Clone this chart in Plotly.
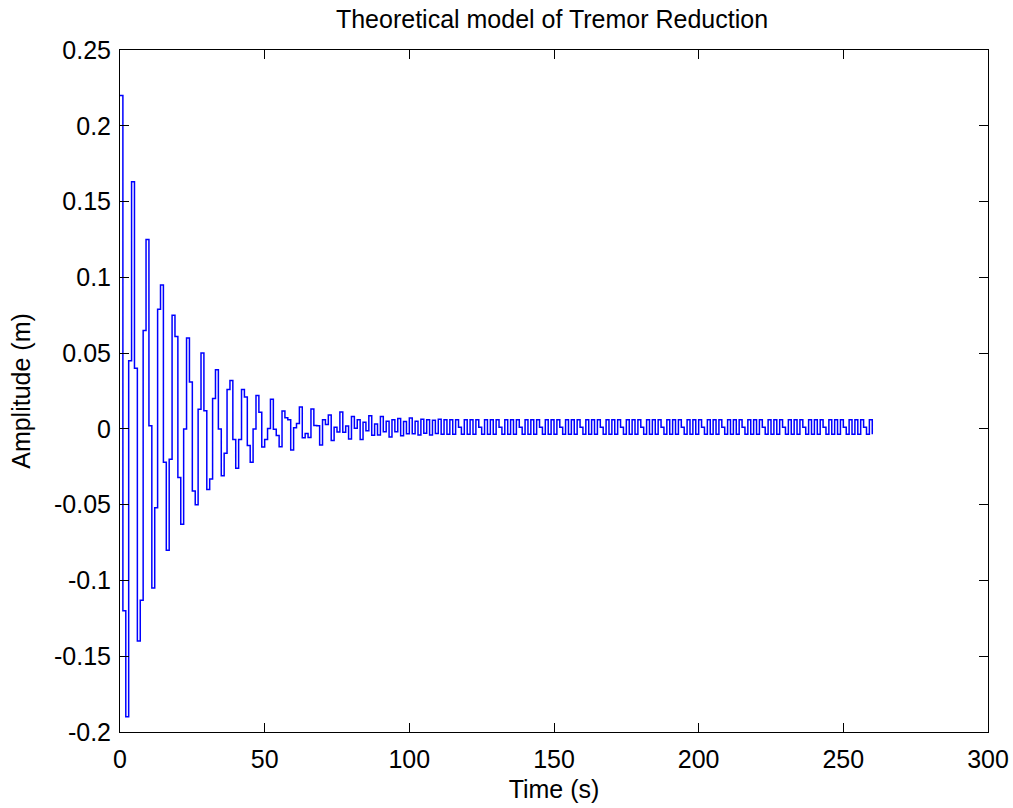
import plotly.graph_objects as go

# Sampled amplitude (m), one sample per second, drawn as a staircase
transient_part = [
    0.22, -0.12, -0.19, 0.045, 0.163, 0.04, -0.14, -0.113, 0.065, 0.125,
    0.002, -0.105, -0.052, 0.079, 0.095, -0.022, -0.08, -0.02, 0.075, 0.061,
    -0.032, -0.063, 0.0, 0.06, 0.031, -0.041, -0.05, 0.013, 0.05, 0.012,
    -0.04, -0.033, 0.02, 0.039, 0.0, -0.031, -0.016, 0.026, 0.032, -0.007,
    -0.026, -0.007, 0.026, 0.021, -0.011, -0.022, 0.0, 0.022, 0.011, -0.012,
]
beat_part = [
    -0.007, 0.0002, 0.0195, -0.0002, -0.0044, -0.0118, 0.0118, 0.0073, 0.006, -0.0139,
    0.0007, 0.0036, 0.0145, -0.0059, -0.003, -0.0057, 0.0132, 0.0022, 0.0021, -0.0106,
    0.006, 0.0029, 0.0092, -0.0077, 0.0011, -0.0021, 0.0112, -0.0022, 0.0019, -0.0067,
    0.0082, 0.0004, 0.006, -0.007, 0.0043, -0.0012, 0.0086, -0.0042, 0.0033, -0.0041,
    0.0081, -0.0019, 0.005, -0.0054, 0.006, -0.0019, 0.0068, -0.0046, 0.0048, -0.0032,
    0.0072, -0.0032, 0.0051, -0.0041, 0.0064, -0.0028, 0.006, -0.0041, 0.0057, -0.0031,
    0.0063,
]
steady_part = [
    -0.0035, 0.006, -0.0035, 0.006, -0.0035, 0.006, 0.001,
    -0.0035, 0.006, -0.0035, 0.006, -0.0035, 0.006, 0.001,
    -0.0035, 0.006, -0.0035, 0.006, -0.0035, 0.006, 0.001,
    -0.0035, 0.006, -0.0035, 0.006, -0.0035, 0.006, 0.001,
    -0.0035, 0.006, -0.0035, 0.006, -0.0035, 0.006, 0.001,
    -0.0035, 0.006, -0.0035, 0.006, -0.0035, 0.006, 0.001,
    -0.0035, 0.006, -0.0035, 0.006, -0.0035, 0.006, 0.001,
    -0.0035, 0.006, -0.0035, 0.006, -0.0035, 0.006, 0.001,
    -0.0035, 0.006, -0.0035, 0.006, -0.0035, 0.006, 0.001,
    -0.0035, 0.006, -0.0035, 0.006, -0.0035, 0.006, 0.001,
    -0.0035, 0.006, -0.0035, 0.006, -0.0035, 0.006, 0.001,
    -0.0035, 0.006, -0.0035, 0.006, -0.0035, 0.006, 0.001,
    -0.0035, 0.006, -0.0035, 0.006, -0.0035, 0.006, 0.001,
    -0.0035, 0.006, -0.0035, 0.006, -0.0035, 0.006, 0.001,
    -0.0035, 0.006, -0.0035, 0.006, -0.0035, 0.006, 0.001,
    -0.0035, 0.006, -0.0035, 0.006, -0.0035, 0.006, 0.001,
    -0.0035, 0.006, -0.0035, 0.006, -0.0035, 0.006, 0.001,
    -0.0035, 0.006, -0.0035, 0.006, -0.0035, 0.006, 0.001,
    -0.0035, 0.006, -0.0035, 0.006, -0.0035, 0.006, 0.001,
    -0.0035, 0.006, -0.0035, 0.006, -0.0035, 0.006, 0.001,
    -0.0035, 0.006, -0.0035, 0.006, -0.0035, 0.006, 0.001,
    -0.0035, 0.006, -0.0035,
]
amplitude_m = transient_part + beat_part + steady_part
time_s = list(range(len(amplitude_m)))

x_ticks = [0, 50, 100, 150, 200, 250, 300]
y_ticks = [-0.2, -0.15, -0.1, -0.05, 0, 0.05, 0.1, 0.15, 0.2, 0.25]
y_tick_text = ["-0.2", "-0.15", "-0.1", "-0.05", "0", "0.05", "0.1", "0.15", "0.2", "0.25"]

FONT = "Liberation Sans, Arial, sans-serif"

fig = go.Figure()
fig.add_trace(go.Scatter(
    x=time_s, y=amplitude_m, mode="lines",
    line=dict(color="#0000FF", width=1.5, shape="hv"),
    showlegend=False,
))

axis_common = dict(
    showline=True, linecolor="black", linewidth=1, mirror="ticks",
    ticks="inside", ticklen=9, tickwidth=1, tickcolor="black",
    showgrid=False, zeroline=False, automargin=False,
    ticklabeloverflow="allow",
    tickfont=dict(family=FONT, size=25, color="black"),
)

fig.update_layout(
    width=1013, height=808,
    margin=dict(l=120, r=25, t=50, b=76),
    paper_bgcolor="white", plot_bgcolor="white",
    title=dict(
        text="Theoretical model of Tremor Reduction",
        x=552 / 1013, xanchor="center", y=1 - 19 / 808, yanchor="middle",
        font=dict(family=FONT, size=25, color="black"),
    ),
    xaxis=dict(
        range=[0, 300], tickvals=x_ticks, ticklabelstandoff=5,
        title=dict(text="Time (s)", font=dict(family=FONT, size=25, color="black"), standoff=8),
        **axis_common,
    ),
    yaxis=dict(
        range=[-0.2, 0.25], tickvals=y_ticks, ticktext=y_tick_text, ticklabelstandoff=3,
        title=dict(text="Amplitude (m)", font=dict(family=FONT, size=25, color="black"), standoff=16),
        **axis_common,
    ),
)

fig.write_html("out.html")
